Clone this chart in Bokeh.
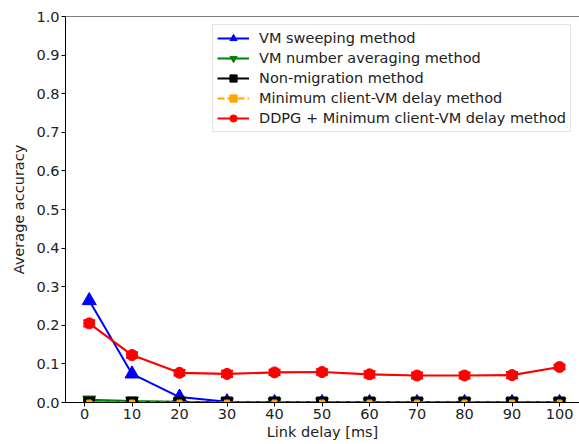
from bokeh.plotting import figure
from bokeh.models import (ColumnDataSource, Whisker, TeeHead, Legend, LegendItem,
                          Span, Range1d, FixedTicker)
from bokeh.embed import file_html
from bokeh.resources import INLINE

# Link delay [ms]
delay = [1, 10, 20, 30, 40, 50, 60, 70, 80, 90, 100]

# Average accuracy per method
sweeping = [0.264, 0.074, 0.014, 0.002, 0.0, 0.0, 0.0, 0.0, 0.0, 0.0, 0.0]
averaging = [0.007, 0.004, 0.002, 0.001, 0.001, 0.001, 0.001, 0.001, 0.001, 0.001, 0.001]
non_migration = [0.0, 0.0, 0.0, 0.0, 0.0, 0.0, 0.0, 0.0, 0.0, 0.0, 0.0]
min_delay = [0.0, 0.0, 0.0, 0.0, 0.0, 0.0, 0.0, 0.0, 0.0, 0.0, 0.0]
ddpg = [0.205, 0.123, 0.077, 0.074, 0.078, 0.079, 0.073, 0.070, 0.070, 0.071, 0.092]
ddpg_err = [0.008, 0.007, 0.007, 0.008, 0.007, 0.007, 0.008, 0.008, 0.008, 0.008, 0.006]

x_ticks = [0, 10, 20, 30, 40, 50, 60, 70, 80, 90, 100]
y_ticks = [0.0, 0.1, 0.2, 0.3, 0.4, 0.5, 0.6, 0.7, 0.8, 0.9, 1.0]

FONT = "DejaVu Sans"
FS = "14.5px"
TXT = "#222222"

p = figure(width=579, height=444, output_backend="svg", toolbar_location=None,
           x_range=Range1d(-4.0, 104.2), y_range=Range1d(0.0, 1.0),
           min_border_left=65, min_border_top=16, min_border_right=0,
           min_border_bottom=42)
p.outline_line_color = None
p.grid.visible = False
p.background_fill_color = "white"
p.border_fill_color = "white"

# top spine only (right side runs off the page)
p.add_layout(Span(location=1.0, dimension="width", line_color="black", line_width=1.2))

for ax in (p.xaxis[0], p.yaxis[0]):
    ax.major_tick_out = 4
    ax.major_tick_in = 0
    ax.minor_tick_line_color = None
    ax.axis_line_color = "black"
    ax.major_tick_line_color = "black"
    ax.major_label_text_font = FONT
    ax.major_label_text_font_size = FS
    ax.major_label_text_color = TXT
    ax.axis_label_text_font = FONT
    ax.axis_label_text_font_size = FS
    ax.axis_label_text_font_style = "normal"
    ax.axis_label_text_color = TXT
    ax.major_label_standoff = 2
    ax.axis_label_standoff = 2

p.yaxis[0].axis_label_standoff = 6
p.xaxis[0].ticker = FixedTicker(ticks=x_ticks)
p.yaxis[0].ticker = FixedTicker(ticks=y_ticks)
p.yaxis[0].major_label_overrides = {v: f"{v:.1f}" for v in y_ticks}
p.xaxis[0].axis_label = "Link delay [ms]"
p.yaxis[0].axis_label = "Average accuracy"

src = ColumnDataSource(dict(x=delay, sw=sweeping, av=averaging, nm=non_migration,
                            md=min_delay, dd=ddpg,
                            lo=[v - e for v, e in zip(ddpg, ddpg_err)],
                            hi=[v + e for v, e in zip(ddpg, ddpg_err)]))

l1 = p.line("x", "sw", source=src, line_color="blue", line_width=2)
m1 = p.scatter("x", "sw", source=src, marker="triangle", size=14,
               fill_color="blue", line_color="blue")

l2 = p.line("x", "av", source=src, line_color="green", line_width=2)
m2 = p.scatter("x", "av", source=src, marker="inverted_triangle", size=13,
               fill_color="green", line_color="green")

l3 = p.line("x", "nm", source=src, line_color="black", line_width=2)
m3 = p.scatter("x", "nm", source=src, marker="square", size=11,
               fill_color="black", line_color="black")

l4 = p.line("x", "md", source=src, line_color="orange", line_width=2, line_dash="7 3")
m4 = p.scatter("x", "md", source=src, marker="square", size=5,
               fill_color="orange", line_color="orange")

whisk = Whisker(source=src, base="x", lower="lo", upper="hi",
                line_color="red", line_width=2,
                upper_head=TeeHead(size=12, line_color="red", line_width=2),
                lower_head=TeeHead(size=12, line_color="red", line_width=2))
p.add_layout(whisk)
l5 = p.line("x", "dd", source=src, line_color="red", line_width=2.2)
m5 = p.scatter("x", "dd", source=src, marker="circle", size=11,
               fill_color="red", line_color="red")

legend = Legend(items=[
    LegendItem(label="VM sweeping method", renderers=[l1, m1]),
    LegendItem(label="VM number averaging method", renderers=[l2, m2]),
    LegendItem(label="Non-migration method", renderers=[l3, m3]),
    LegendItem(label="Minimum client-VM delay method", renderers=[l4, m4]),
    LegendItem(label="DDPG + Minimum client-VM delay method", renderers=[l5, m5]),
], location="top_right")
legend.margin = 8
legend.padding = 4
legend.spacing = 2
legend.glyph_height = 18
legend.glyph_width = 32
legend.label_height = 18
legend.label_standoff = 10
legend.label_text_font = FONT
legend.label_text_font_size = FS
legend.label_text_color = TXT
legend.border_line_color = "#cccccc"
legend.border_line_width = 1
legend.background_fill_alpha = 0.85
p.add_layout(legend)

open("out.html", "w").write(file_html(p, INLINE))
